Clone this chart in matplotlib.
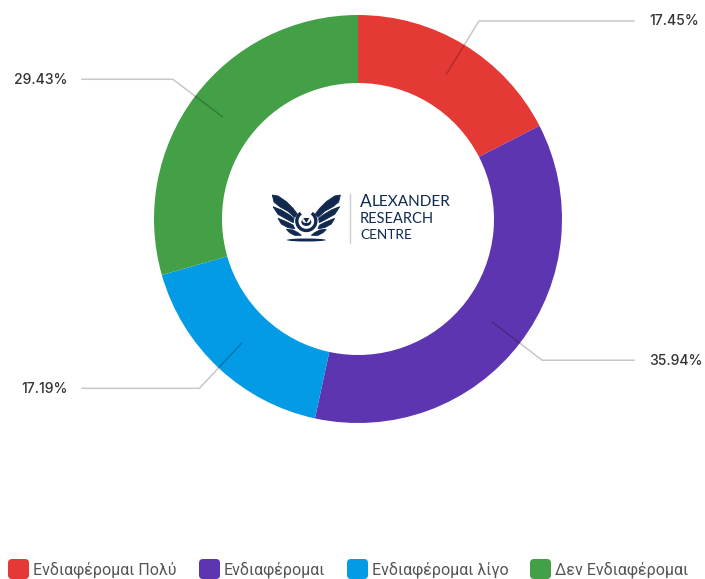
import numpy as np
import matplotlib
matplotlib.use("Agg")
import matplotlib.pyplot as plt
from matplotlib.patches import FancyBboxPatch, Polygon, Arc, Ellipse

categories = ["Ενδιαφέρομαι Πολύ", "Ενδιαφέρομαι", "Ενδιαφέρομαι λίγο", "Δεν Ενδιαφέρομαι"]
values = [17.45, 35.94, 17.19, 29.43]
colors = ["#e53935", "#5e35b1", "#039be5", "#43a047"]

W, H = 705, 579
fig = plt.figure(figsize=(W / 100, H / 100), dpi=100)
ax = fig.add_axes([0, 0, 1, 1])
Y = lambda p: H - p

CX, CY, R, RING = 358, 219, 204, 68
ax.pie(values, colors=colors, startangle=90, counterclock=False, radius=R,
       center=(CX, Y(CY)), wedgeprops=dict(width=RING, linewidth=0))
ax.set_xlim(0, W)
ax.set_ylim(0, H)
ax.set_aspect("equal")
ax.axis("off")

# leader lines and value labels
total = sum(values)
cum = 0
for v in values:
    a = np.radians((cum + v / 2) / total * 360)
    cum += v
    sx, cs = np.sin(a), np.cos(a)
    x0, y0 = CX + 170 * sx, CY - 170 * cs
    x1, y1 = CX + 232 * sx, CY - 232 * cs
    right = sx > 0
    x2 = 634 if right else 82
    ax.plot([x0, x1, x2], [Y(y0), Y(y1), Y(y1)], color="#000000", alpha=0.22, lw=1.1, zorder=5)
    ax.text(649.5 if right else 67.5, Y(y1 + 0.5), f"{v:.2f}%", ha="left" if right else "right",
            va="center", fontsize=10.1, color="#333333", family="Inter", fontweight="medium", zorder=6)

# legend
swatches = [8, 199, 347, 530]
for xs, c, name in zip(swatches, colors, categories):
    ax.add_patch(FancyBboxPatch((xs + 3, Y(576)), 15, 14,
                 boxstyle="round,pad=3,rounding_size=4", fc=c, ec="none", zorder=4))
    ax.text(xs + 25, Y(569.5), name, ha="left", va="center", fontsize=11.5,
            color="#555555", family="Roboto")

# logo (outlines given in 3x-zoom pixels of the logo box)
navy = "#10294f"
OX, OY, MID = 268, 190, 115
feathers = [
    [(13, 15), (30, 18), (55, 35), (75, 55), (88, 72), (80, 82), (60, 64), (35, 50), (18, 36)],
    [(15, 50), (40, 60), (65, 75), (78, 85), (76, 98), (55, 87), (30, 73)],
    [(30, 85), (55, 95), (75, 105), (80, 116), (60, 113), (40, 102)],
    [(55, 118), (75, 120), (90, 128), (100, 136), (80, 136), (65, 128)],
]
for poly in feathers:
    for mirror in (False, True):
        pts = [(OX + ((2 * MID - zx) if mirror else zx) / 3, Y(OY + zy / 3)) for zx, zy in poly]
        ax.add_patch(Polygon(pts, closed=True, fc=navy, ec=navy, lw=0.6, zorder=7))
LX = OX + MID / 3
ax.add_patch(Arc((LX, Y(221)), 19, 19, theta1=125, theta2=55, color=navy, lw=2.4, zorder=7))
ax.add_patch(Ellipse((LX, Y(222)), 10, 8, fc=navy, ec="none", zorder=7))
ax.add_patch(Ellipse((LX, Y(220.3)), 8, 5.5, fc="white", ec="none", zorder=8))
ax.add_patch(Polygon([(LX - 3, Y(218)), (LX + 3, Y(218)), (LX, Y(223))], closed=True, fc=navy, ec="none", zorder=9))
ax.add_patch(Ellipse((LX, Y(240)), 39, 3, fc=navy, ec="none", zorder=7))
ax.plot([350, 350], [Y(194), Y(243)], color="#c9ced6", lw=1, zorder=7)

font = "Lato"
ax.text(360, Y(202), "A", fontsize=12.5, color=navy, family=font, ha="left", va="center", zorder=7)
ax.text(371.5, Y(202.5), "LEXANDER", fontsize=11.1, color=navy, family=font, ha="left", va="center", zorder=7)
ax.text(360, Y(219), "RESEARCH", fontsize=10.5, color=navy, family=font, ha="left", va="center", zorder=7)
ax.text(360, Y(235), "CENTRE", fontsize=9.8, color=navy, family=font, ha="left", va="center", zorder=7)

fig.savefig("out.png", dpi=100, facecolor="white")
